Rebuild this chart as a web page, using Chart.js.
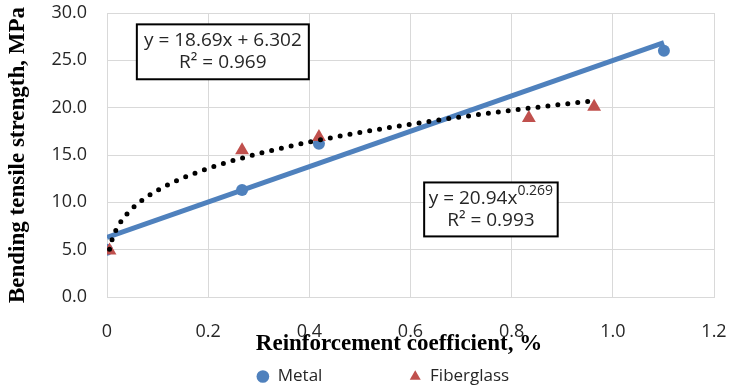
<!DOCTYPE html>
<html>
<head>
<meta charset="utf-8">
<script src="https://cdn.jsdelivr.net/npm/chart.js@4"></script>
<style>
  html, body { margin: 0; padding: 0; background: #fff; }
  #wrap { width: 732px; height: 387px; }
</style>
</head>
<body>
<div id="wrap"><canvas id="chart" width="732" height="387"></canvas></div>
<script>
// measured points
const metalX = [0, 0.267, 0.419, 1.101];
const metalY = [5.0, 11.3, 16.2, 26.0];
const fiberX = [0.005, 0.267, 0.419, 0.834, 0.963];
const fiberY = [4.9, 15.5, 16.9, 18.9, 20.1];

// axis ticks
const xTicks = [0, 0.2, 0.4, 0.6, 0.8, 1, 1.2];
const yTicks = [0, 5, 10, 15, 20, 25, 30];

// trendline coefficients as printed on the chart
const linSlope = 18.69;
const linIntercept = 6.302;
const linR2 = '0.969';
const powCoef = 20.94;
const powExp = 0.269;
const powR2 = '0.993';

const blue = '#4f81bd';
const red = '#c0504d';
const gridColor = '#d9d9d9';
const textColor = '#262626';

// linear trend runs over the metal x range
const linX0 = Math.min(...metalX), linX1 = Math.max(...metalX);
const linearTrend = [linX0, linX1].map(x => ({x: x, y: linSlope * x + linIntercept}));

// power trend runs over the fiberglass x range
const powX0 = Math.min(...fiberX), powX1 = Math.max(...fiberX);
const powerTrend = [];
for (let i = 0; i <= 120; i++) {
    const t = i / 120;
    const x = powX0 + (powX1 - powX0) * t * t;
    powerTrend.push({x: x, y: powCoef * Math.pow(x, powExp)});
}

const toPoints = (xs, ys) => xs.map((x, i) => ({x: x, y: ys[i]}));

// equation boxes drawn on top of the plot
function drawEqBox(ctx, xs, ys, box, line1, sup, line2) {
    const left = xs.getPixelForValue(box[0]);
    const right = xs.getPixelForValue(box[1]);
    const top = ys.getPixelForValue(box[2]);
    const bottom = ys.getPixelForValue(box[3]);
    const cx = (left + right) / 2;
    const cy = (top + bottom) / 2;
    ctx.save();
    ctx.fillStyle = '#fff';
    ctx.fillRect(left, top, right - left, bottom - top);
    ctx.strokeStyle = '#000';
    ctx.lineWidth = 2;
    ctx.strokeRect(left, top, right - left, bottom - top);
    ctx.fillStyle = textColor;
    ctx.textBaseline = 'middle';
    const mainFont = '19px "Open Sans"';
    const supFont = '14px "Open Sans"';
    ctx.font = mainFont;
    const w1 = ctx.measureText(line1).width;
    ctx.font = supFont;
    const ws = sup ? ctx.measureText(sup).width : 0;
    let x = cx - (w1 + ws) / 2;
    ctx.textAlign = 'left';
    ctx.font = mainFont;
    ctx.fillText(line1, x, cy - 11);
    if (sup) {
        ctx.font = supFont;
        ctx.fillText(sup, x + w1, cy - 18);
    }
    ctx.font = mainFont;
    ctx.textAlign = 'center';
    ctx.fillText(line2, cx, cy + 11);
    ctx.restore();
}

const eqBoxes = {
    id: 'eqBoxes',
    afterDatasetsDraw(chart) {
        const {ctx, scales} = chart;
        drawEqBox(ctx, scales.x, scales.y, [0.059, 0.399, 28.8, 23.0],
            'y = ' + linSlope + 'x + ' + linIntercept, '', 'R\u00b2 = ' + linR2);
        drawEqBox(ctx, scales.x, scales.y, [0.627, 0.891, 12.1, 6.4],
            'y = ' + powCoef + 'x', String(powExp), 'R\u00b2 = ' + powR2);
    }
};

const ctx = document.getElementById('chart').getContext('2d');
new Chart(ctx, {
    type: 'scatter',
    data: {
        datasets: [
            {
                label: 'Metal',
                data: toPoints(metalX, metalY),
                pointStyle: 'circle',
                pointRadius: 6,
                backgroundColor: blue,
                borderColor: blue,
                borderWidth: 0,
                order: 3
            },
            {
                label: 'Fiberglass',
                data: toPoints(fiberX, fiberY),
                pointStyle: 'triangle',
                pointRadius: 8,
                backgroundColor: red,
                borderColor: red,
                borderWidth: 0,
                order: 2
            },
            {
                label: 'Linear (Metal)',
                data: linearTrend,
                showLine: true,
                pointRadius: 0,
                borderColor: blue,
                borderWidth: 5,
                order: 1
            },
            {
                label: 'Power (Fiberglass)',
                data: powerTrend,
                showLine: true,
                pointRadius: 0,
                borderColor: '#000',
                borderWidth: 5,
                borderDash: [0, 10],
                borderCapStyle: 'round',
                order: 0
            }
        ]
    },
    options: {
        responsive: false,
        animation: false,
        layout: {
            autoPadding: false,
            padding: {top: 13, right: 18, bottom: -8, left: 0}
        },
        plugins: {
            tooltip: {enabled: false},
            legend: {
                position: 'bottom',
                fullSize: false,
                labels: {
                    usePointStyle: true,
                    pointStyleWidth: 12.7,
                    boxHeight: 9,
                    padding: 10,
                    color: textColor,
                    font: {family: 'Open Sans', size: 17},
                    filter: item => item.datasetIndex < 2,
                    sort: (a, b) => a.datasetIndex - b.datasetIndex,
                    generateLabels(chart) {
                        const items = Chart.defaults.plugins.legend.labels.generateLabels(chart);
                        items.forEach(it => {
                            if (it.datasetIndex === 0) it.text = 'Metal' + '\u2003\u2003\u2003\u2003\u2002';
                            if (it.datasetIndex === 1) it.text = 'Fiberglass' + '\u2003\u2003\u2003\u2005';
                        });
                        return items;
                    }
                }
            }
        },
        scales: {
            x: {
                type: 'linear',
                min: 0,
                max: 1.2,
                afterBuildTicks: axis => { axis.ticks = xTicks.map(v => ({value: v})); },
                afterFit: axis => {
                    axis.height = 61;
                    axis.paddingLeft = 0;
                    axis.paddingRight = 0;
                },
                grid: {color: gridColor, drawTicks: false},
                border: {color: gridColor},
                ticks: {
                    padding: 24,
                    color: textColor,
                    font: {family: 'Open Sans', size: 18}
                },
                title: {
                    display: true,
                    text: 'Reinforcement coefficient, %\u2003',
                    color: '#000',
                    font: {family: 'Liberation Serif', size: 23, weight: 'bold'},
                    padding: {top: 0, bottom: 0}
                }
            },
            y: {
                type: 'linear',
                min: 0,
                max: 30,
                afterBuildTicks: axis => { axis.ticks = yTicks.map(v => ({value: v})); },
                afterFit: axis => {
                    axis.width = 107;
                    axis.paddingTop = 0;
                    axis.paddingBottom = 0;
                },
                grid: {color: gridColor, drawTicks: false},
                border: {color: gridColor},
                ticks: {
                    padding: 20,
                    color: textColor,
                    font: {family: 'Open Sans', size: 18},
                    callback: v => v.toFixed(1)
                },
                title: {
                    display: true,
                    text: 'Bending tensile strength, MPa',
                    color: '#000',
                    font: {family: 'Liberation Serif', size: 23, weight: 'bold'},
                    padding: {top: 4, bottom: 0}
                }
            }
        }
    },
    plugins: [eqBoxes]
});
</script>
</body>
</html>
